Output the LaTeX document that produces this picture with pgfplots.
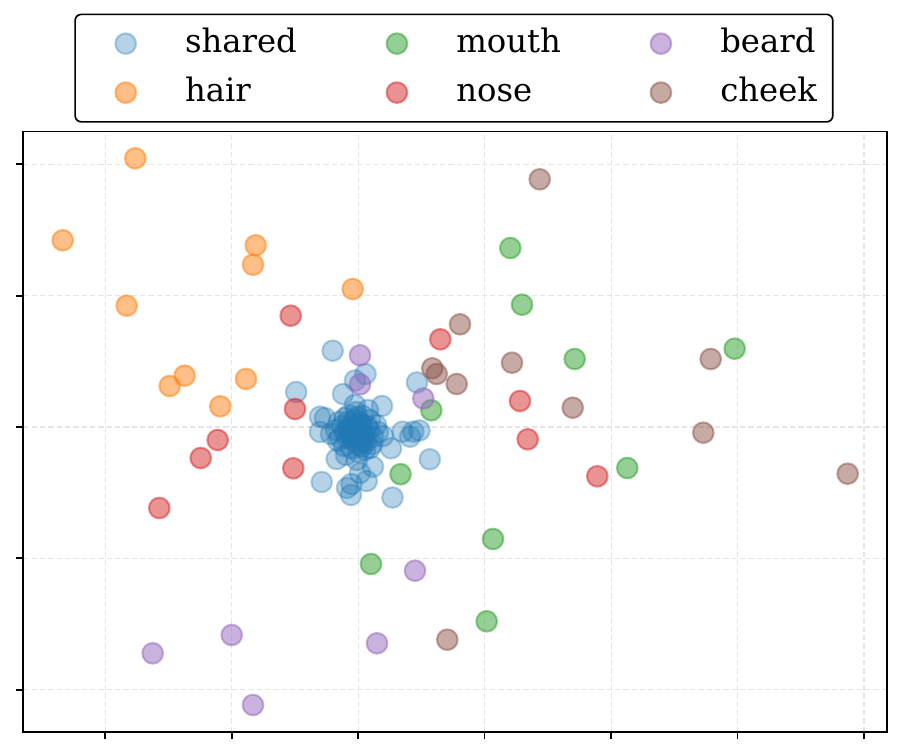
\documentclass[border=0pt]{standalone}
\usepackage{fontspec}
\setmainfont{DejaVu Serif}
\usepackage{pgfplots}
\pgfplotsset{compat=1.18}
\definecolor{tabblue}{HTML}{1F77B4}
\definecolor{taborange}{HTML}{FF7F0E}
\definecolor{tabgreen}{HTML}{2CA02C}
\definecolor{tabred}{HTML}{D62728}
\definecolor{tabpurple}{HTML}{9467BD}
\definecolor{tabbrown}{HTML}{8C564B}
\pgfplotsset{
  pt/.style={only marks, mark=*, mark size=4.95pt, mark options={fill=#1, draw=#1, opacity=0.5, line width=1pt}},
  ptsh/.style={only marks, mark=*, mark size=4.95pt, mark options={fill=tabblue, draw=tabblue, opacity=0.33, line width=1pt}},
}
\begin{document}
\begin{tikzpicture}
\path[use as bounding box] (-11.18pt,-11.52pt) rectangle (422.26pt,351.36pt);
\begin{axis}[
  at={(0pt,0pt)}, anchor=south west,
  scale only axis, width=414.43pt, height=288.29pt,
  xmin=23.3, xmax=886.7, ymin=24, ymax=624.6,
  xtick={105.3,231.75,358.2,484.65,611.1,737.55,864},
  ytick={66.3,197.7,329,460.3,591.7},
  xticklabels={}, yticklabels={},
  tick pos=left, tick align=outside, major tick length=3.5pt,
  tick style={black, line width=0.8pt},
  axis line style={line width=0.8pt},
  grid=major,
  major grid style={gray!20, line width=0.5pt, dash pattern=on 2.5pt off 1.5pt},
  legend columns=3,
  legend cell align=left,
  legend style={at={(0.4988,1)}, anchor=south, yshift=4.18pt, draw=black, line width=0.8pt,
    rounded corners=3pt, inner xsep=7.6pt, inner ysep=2.3pt,
    font=\fontsize{15.5}{18}\selectfont,
    nodes={inner sep=0pt, text height=9pt, text depth=0pt},
    /tikz/every even column/.append style={column sep=31.3pt}},
  legend image code/.code={\path[draw=none,fill=none] (-16.7pt,-11.75pt) rectangle (28.5pt,11.75pt); \draw[#1] plot coordinates {(0pt,0pt)};},
]
% shared
\addplot[ptsh, forget plot] coordinates {
(332.7,405.3)(296.2,364)(365.5,382)(355,375.5)(417,373.5)(343,362)(382,350)
(320,339.3)(325,338)(320,324)(402.5,324.3)(410,319.3)(413.3,324.3)(419.5,325.5)
(429.8,296.7)(391,307.7)(336.7,297)(373,289.3)(360,283)(366.7,275)(321.7,274)
(351.5,272)(347,268)(351,261)(392.5,258.5)
(357,324)(350,328)(364,320)(352,316)(362,331)(345,323)(369,326)(355,336)
(359,311)(348,334)(366,314)(340,318)(373,319)(356,344)(358,304)(344,310)
(370,336)(351,308)(363,340)(336,326)(378,324)(353,321)(361,325)(347,318)
(367,330)(354,330)(360,316)(342,330)(372,312)(349,341)(365,306)(338,315)
(376,331)(357,296)(355,351)(331,322)(383,320)(346,301)(368,346)(352,325)
(359,320)(362,309)(345,338)(370,308)(339,334)
(356,322)(358,328)(354,318)(360,333)(350,322)(363,314)(357,339)(348,328)
};
% hair
\addplot[pt=taborange, forget plot] coordinates {
(135.3,597.7)(62.7,515.7)(255.7,510.7)(253,491.3)(352.7,467)(126.7,450.3)
(184.7,380.3)(169.7,370)(246,377)(220.3,349.7)
};
% mouth
\addplot[pt=tabgreen, forget plot] coordinates {
(510.3,508)(522,451.3)(574.7,397)(734.7,407.3)(431.3,345.7)(627.3,288)
(400.5,281.8)(493,217)(371,192)(486.7,134.7)
};
% nose
\addplot[pt=tabred, forget plot] coordinates {
(290.7,440.3)(440.3,416.7)(295,347)(520,355)(217.7,316)(527.7,316.7)
(200.7,298)(293.3,287.7)(597.3,279.7)(159.3,248)
};
% beard
\addplot[pt=tabpurple, forget plot] coordinates {
(360,400.7)(360,371.7)(423.3,357.5)(415,185.3)(231.7,121)(152.7,102.7)
(377,112.7)(253,51)
};
% cheek
\addplot[pt=tabbrown, forget plot] coordinates {
(539.7,576.7)(460,431.7)(432.3,387.7)(436.7,382)(456.7,372)(512,393.3)
(710.7,397)(572.7,348.3)(703.3,323.3)(847.7,282.3)(447.3,116.3)
};
\addlegendimage{ptsh}\addlegendentry{shared}
\addlegendimage{pt=tabgreen}\addlegendentry{mouth}
\addlegendimage{pt=tabpurple}\addlegendentry{beard}
\addlegendimage{pt=taborange}\addlegendentry{hair}
\addlegendimage{pt=tabred}\addlegendentry{nose}
\addlegendimage{pt=tabbrown}\addlegendentry{cheek}
\end{axis}
\end{tikzpicture}
\end{document}
